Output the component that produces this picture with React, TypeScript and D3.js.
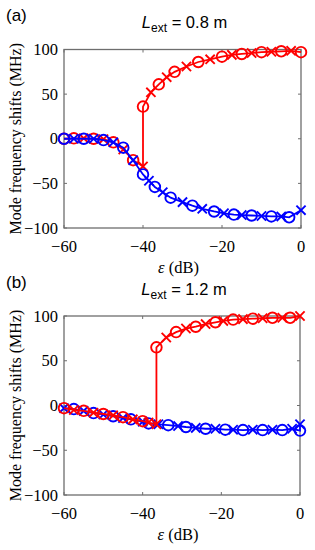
import React, { useEffect, useRef } from 'react'
import * as d3 from 'd3';

// epsilon (dB) vs mode frequency shift (MHz)
const epsTicks = [-60, -40, -20, 0];
const shiftTicks = [-100, -50, 0, 50, 100];

// panel (a), L_ext = 0.8 m
const aRedO = [[-60, 0], [-57.5, 0.5], [-52.5, 0], [-47.5, -4], [-42.5, -24], [-40, 36], [-36, 61], [-32, 75], [-26, 86], [-20, 92], [-15, 95], [-10, 97], [-5, 98], [0, 97]];
const aRedX = [[-55, 0.5], [-50, -0.5], [-45, -12], [-40, -31], [-38, 52], [-34, 69], [-29, 81], [-23, 89], [-17.5, 94], [-12.5, 96], [-7.5, 97.5], [-2.5, 98.5]];
const aBlueO = [[-60, 0], [-55, 0], [-50, -1.5], [-45, -10], [-40, -40], [-37, -54], [-33, -66], [-27.5, -75], [-22, -81.5], [-17, -85], [-12.5, -86], [-7.5, -87], [-3, -88]];
const aBlueX = [[-57.5, 0], [-52.5, 0], [-47.5, -4], [-42.5, -24], [-38.5, -47], [-35, -60], [-30, -71], [-25, -78.5], [-19.5, -83.5], [-15, -85.5], [-10, -86.5], [-5, -87], [0, -80]];

// panel (b), L_ext = 1.2 m
const bRedO = [[-60, -3], [-55, -6], [-50, -9.5], [-45, -13], [-40, -17.5], [-36.5, 65], [-31.5, 82], [-26.5, 88], [-21.5, 93], [-17, 96], [-12, 97], [-7, 98], [-2.5, 98]];
const bRedX = [[-57.5, -5], [-52.5, -8], [-47.5, -11], [-42.5, -15.5], [-38.5, -19], [-36.5, -21], [-34, 76], [-29, 86], [-24, 91], [-19.5, 94.5], [-14.5, 96.5], [-9.5, 97.5], [-4.5, 98], [0, 100]];
const bBlueO = [[-57.5, -4], [-52.5, -8.5], [-47.5, -12], [-43, -15.5], [-38.5, -20], [-33.5, -22], [-29, -24], [-24, -26], [-19, -27], [-14.5, -27.5], [-9.5, -27.5], [-4.5, -27.5], [0, -28]];
const bBlueX = [[-60, -3], [-55, -6], [-50, -10], [-45, -14], [-40, -18], [-36, -21], [-31, -23], [-26.5, -25], [-21.5, -26], [-17, -27], [-12, -27], [-7, -27], [-2, -26], [0, -21]];

const RED = '#ff0000';
const BLUE = '#0000ff';
const AXIS = '#6e6e6e';
const serif = '"Liberation Serif", "Times New Roman", serif';
const sans = '"Liberation Sans", Arial, sans-serif';

const panels = [
  { tag: '(a)', len: '0.8 m', top: 49.5, bottom: 228, left: 64, right: 301, tagY: 21, titleY: 28,
    series: [{ o: aRedO, x: aRedX, c: RED }, { o: aBlueO, x: aBlueX, c: BLUE }] },
  { tag: '(b)', len: '1.2 m', top: 316, bottom: 495, left: 64, right: 300, tagY: 288, titleY: 295,
    series: [{ o: bBlueO, x: bBlueX, c: BLUE }, { o: bRedO, x: bRedX, c: RED }] },
];

export default function App() {
  const svgRef = useRef(null);

  useEffect(() => {
    const svg = d3.select(svgRef.current);
    svg.selectAll('*').remove();

    panels.forEach(p => {
      const x = d3.scaleLinear().domain([-60, 0]).range([p.left, p.right]);
      const y = d3.scaleLinear().domain([-100, 100]).range([p.bottom, p.top]);
      const g = svg.append('g');

      // box
      g.append('rect')
        .attr('x', p.left).attr('y', p.top)
        .attr('width', p.right - p.left).attr('height', p.bottom - p.top)
        .attr('fill', 'none').attr('stroke', AXIS).attr('stroke-width', 1.3);

      // inward ticks on all four sides
      epsTicks.forEach(t => {
        g.append('line').attr('x1', x(t)).attr('x2', x(t)).attr('y1', p.bottom).attr('y2', p.bottom - 3)
          .attr('stroke', AXIS).attr('stroke-width', 1);
        g.append('line').attr('x1', x(t)).attr('x2', x(t)).attr('y1', p.top).attr('y2', p.top + 3)
          .attr('stroke', AXIS).attr('stroke-width', 1);
        g.append('text').attr('x', x(t)).attr('y', p.bottom + 24)
          .attr('text-anchor', 'middle').attr('font-family', serif).attr('font-size', 16.5)
          .text(t < 0 ? '\u2212' + Math.abs(t) : String(t));
      });
      shiftTicks.forEach(t => {
        g.append('line').attr('x1', p.left).attr('x2', p.left + 3).attr('y1', y(t)).attr('y2', y(t))
          .attr('stroke', AXIS).attr('stroke-width', 1);
        g.append('line').attr('x1', p.right).attr('x2', p.right - 3).attr('y1', y(t)).attr('y2', y(t))
          .attr('stroke', AXIS).attr('stroke-width', 1);
        g.append('text').attr('x', p.left - 6).attr('y', y(t) + 5.5)
          .attr('text-anchor', 'end').attr('font-family', serif).attr('font-size', 16.5)
          .text(t < 0 ? '\u2212' + Math.abs(t) : String(t));
      });

      // axis labels
      const xl = g.append('text').attr('x', (p.left + p.right) / 2 - 4).attr('y', p.bottom + 45)
        .attr('text-anchor', 'middle').attr('font-family', serif).attr('font-size', 16.5);
      xl.append('tspan').attr('font-style', 'italic').text('\u03b5');
      xl.append('tspan').text(' (dB)');

      g.append('text')
        .attr('transform', `translate(21,${(p.top + p.bottom) / 2}) rotate(-90)`)
        .attr('text-anchor', 'middle').attr('font-family', serif).attr('font-size', 16)
        .text('Mode frequency shifts (MHz)');

      // tag and title
      g.append('text').attr('x', 6).attr('y', p.tagY)
        .attr('font-family', sans).attr('font-size', 17).text(p.tag);
      const title = g.append('text').attr('x', (p.left + p.right) / 2 + 2).attr('y', p.titleY)
        .attr('text-anchor', 'middle').attr('font-family', sans).attr('font-size', 16.5);
      title.append('tspan').attr('font-style', 'italic').text('L');
      title.append('tspan').attr('font-size', 12).attr('dy', 3.5).text('ext');
      title.append('tspan').attr('dy', -3.5).text(` = ${p.len}`);

      const line = d3.line()
        .x(d => x(d[0]))
        .y(d => y(d[1]));

      p.series.forEach(s => {
        const pts = [...s.o, ...s.x].sort((a, b) => a[0] - b[0] || a[1] - b[1]);
        g.append('path')
          .attr('d', line(pts))
          .attr('fill', 'none').attr('stroke', s.c).attr('stroke-width', 1.8);

        g.selectAll(null).data(s.o).join('circle')
          .attr('cx', d => x(d[0])).attr('cy', d => y(d[1])).attr('r', 5.3)
          .attr('fill', 'none').attr('stroke', s.c).attr('stroke-width', 1.9);

        const k = 4.6;
        g.selectAll(null).data(s.x).join('path')
          .attr('d', d => {
            const cx = x(d[0]), cy = y(d[1]);
            return `M${cx - k},${cy - k}L${cx + k},${cy + k}M${cx - k},${cy + k}L${cx + k},${cy - k}`;
          })
          .attr('fill', 'none').attr('stroke', s.c).attr('stroke-width', 1.9);
      });
    });
  }, []);

  return (
    <svg ref={svgRef} width={315} height={550}
      style={{ position: 'absolute', left: 0, top: 0, background: '#fff' }} />
  );
}
